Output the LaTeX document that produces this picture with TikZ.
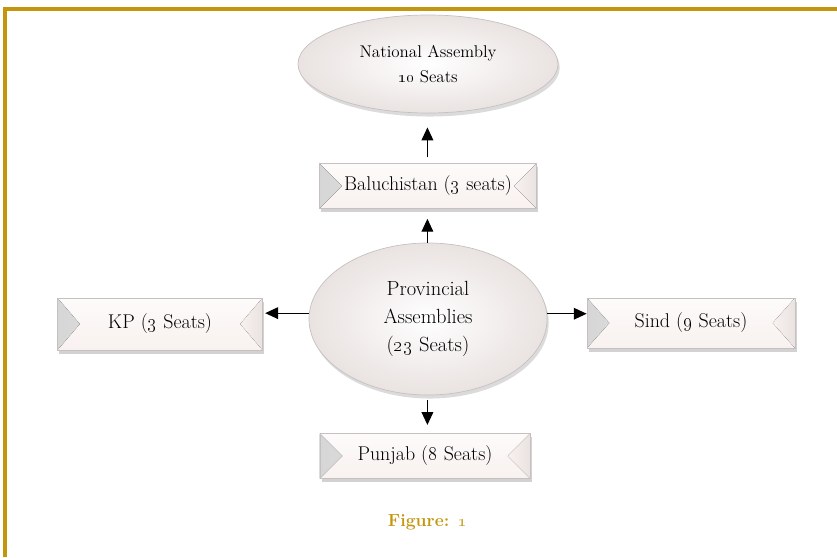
\documentclass[tikz,border=0pt]{standalone}
\usepackage{tikz}
\usetikzlibrary{positioning, arrows.meta, shapes.geometric, shadows, calc}
\definecolor{gold}{HTML}{C4960E}
\definecolor{facepink}{HTML}{F8F1EF}
\definecolor{rimgray}{HTML}{C6C1C0}
\tikzset{
>={Triangle[length=11pt,width=10pt]}, % solid arrow heads
arr/.style={->, line width=1pt},
seatbox/.style={rectangle, draw=rimgray, line width=0.6pt, inner sep=0pt,
  top color=white!70!facepink, bottom color=facepink,
  font=\fontsize{17}{20}\selectfont,
  drop shadow={opacity=0.25, shadow xshift=1.5pt, shadow yshift=-3pt, fill=black!70},
  path picture={
    \fill[left color=black!16, right color=black!5]
      let \p1=(path picture bounding box.south west), \p2=(path picture bounding box.north east)
      in (\x1,\y1) -- (\x1+19pt,{(\y1+\y2)/2}) -- (\x1,\y2) -- cycle;
    \fill[left color=facepink, right color=black!6!facepink]
      let \p1=(path picture bounding box.south west), \p2=(path picture bounding box.north east)
      in (\x2,\y1) -- (\x2-19pt,{(\y1+\y2)/2}) -- (\x2,\y2) -- cycle;
  }},
assembly/.style={ellipse, draw=rimgray, line width=0.6pt, inner sep=0pt,
  inner color=white, outer color=black!6!facepink, align=center,
  drop shadow={opacity=0.2, shadow xshift=1.5pt, shadow yshift=-3pt, fill=black!70}},
}

\begin{document}
\begin{tikzpicture}[x=0.03cm, y=-0.03cm]
\useasboundingbox (0,0) rectangle (837,557);
% frame
\draw[gold, line width=3pt] (5,557) -- (5,9) -- (837,9);

\node[assembly, minimum width=7.8cm, minimum height=2.94cm,
  font=\fontsize{14.5}{22}\selectfont] at (428,64) (na)
  {National Assembly\\\oldstylenums{10} Seats};
\node[seatbox, minimum width=6.51cm, minimum height=1.35cm] at (428,186) (bal)
  {Baluchistan (\oldstylenums{3} seats)};
\node[assembly, minimum width=7.14cm, minimum height=4.56cm,
  font=\fontsize{17.5}{24}\selectfont] at (428,319) (prov)
  {Provincial\\Assemblies\\(\oldstylenums{23} Seats)};
\node[seatbox, minimum width=6.15cm, minimum height=1.56cm] at (160,324) (kp)
  {KP (\oldstylenums{3} Seats)};
\node[seatbox, minimum width=6.24cm, minimum height=1.5cm] at (691,323) (sind)
  {Sind (\oldstylenums{9} Seats)};
\node[seatbox, minimum width=6.3cm, minimum height=1.35cm] at (425,456) (pun)
  {Punjab (\oldstylenums{8} Seats)};
\node[font=\fontsize{15}{18}\selectfont\bfseries, text=gold] at (427,522) (fig)
  {Figure: \oldstylenums{1}};

\draw[arr, shorten <=5pt, shorten >=12pt] ([xshift=-0.5pt]bal.north) -- ([xshift=-0.5pt]na.south);
\draw[arr, shorten >=8.5pt] ([xshift=-0.5pt]prov.north) -- ([xshift=-0.5pt]bal.south);
\draw[arr, shorten >=2pt] ([yshift=5pt]prov.west) -- ([yshift=5pt]prov.west -| kp.east);
\draw[arr] ([yshift=4.5pt]prov.east) -- ([yshift=4.5pt]prov.east -| sind.west);
\draw[arr, shorten <=4pt, shorten >=7pt] ([xshift=-0.5pt]prov.south) -- ([xshift=-0.5pt]prov.south |- pun.north);
\end{tikzpicture}
\end{document}
